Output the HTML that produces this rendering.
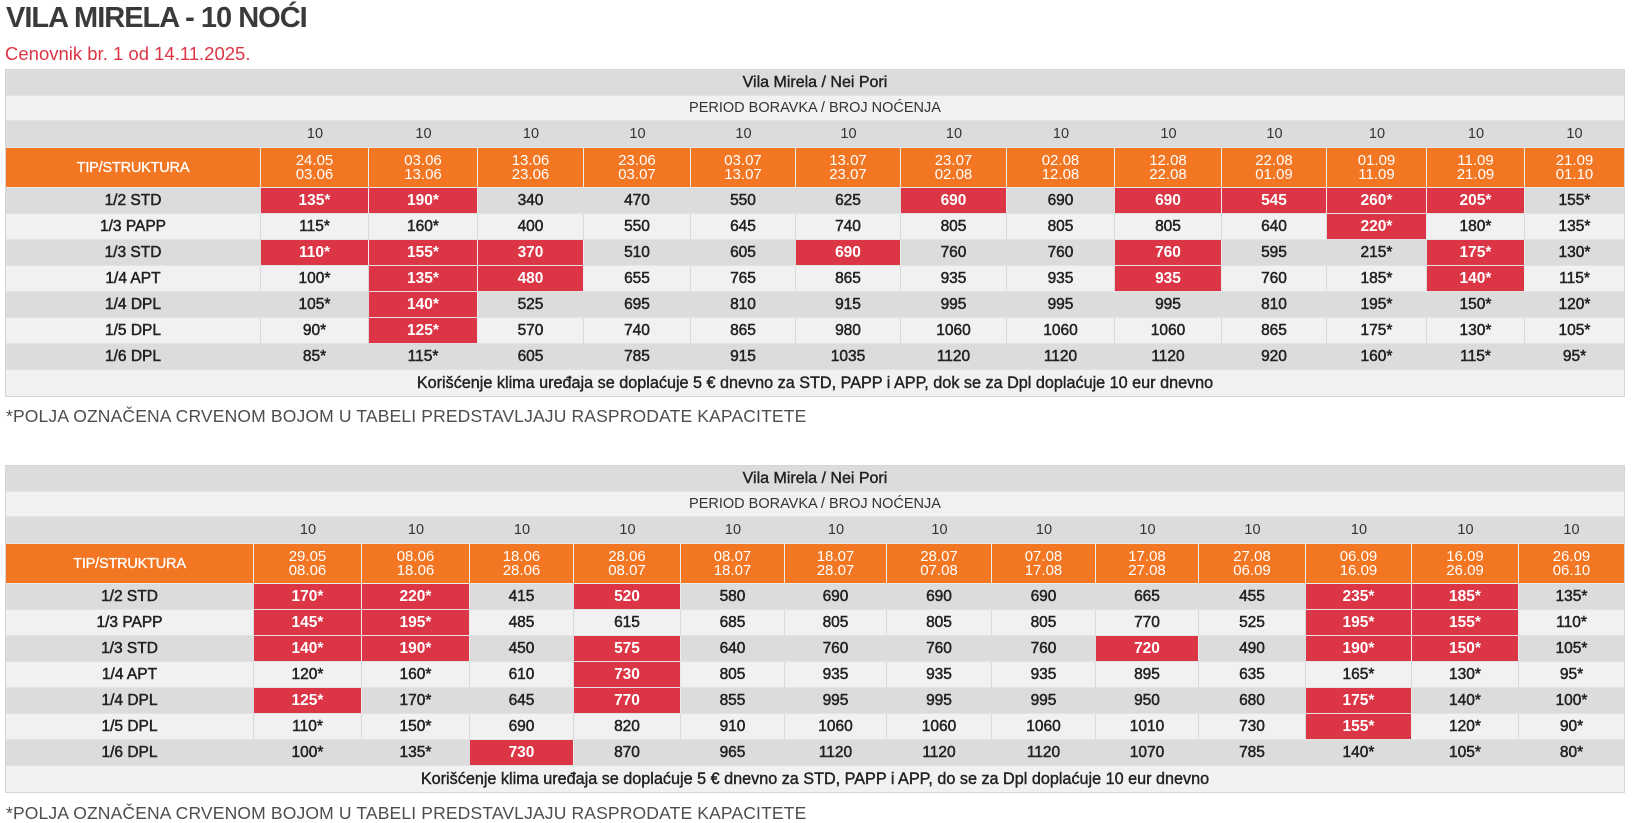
<!DOCTYPE html>
<html>
<head>
<meta charset="utf-8">
<style>
html,body{margin:0;padding:0}
body{width:1637px;height:823px;background:#fff;position:relative;overflow:hidden;font-family:"Liberation Sans",sans-serif;color:#222}
.h1{position:absolute;left:6px;top:4px;font-size:29px;line-height:29px;font-weight:bold;color:#3a3a3a;letter-spacing:-1px;white-space:nowrap}
.sub{position:absolute;left:5px;top:45px;font-size:18.5px;line-height:18.5px;color:#dc3545;white-space:nowrap}
.fn{position:absolute;left:6px;font-size:17.5px;line-height:17.5px;color:#4d4d4d;white-space:nowrap;letter-spacing:0.15px}
.tb{position:absolute;left:5px;width:1620px;border:1px solid #d6d6d6;box-sizing:border-box;background:#f1f1f1}
.row{display:grid;box-sizing:border-box;border-bottom:1px solid #e3e3e3}
.t1 .row{grid-template-columns:255px 108px 109px 106px 107px 105px 105px 106px 108px 107px 105px 100px 98px 99px}
.t2 .row{grid-template-columns:248px 108px 108px 104px 107px 104px 102px 105px 104px 103px 107px 106px 107px 105px}
.row>div{display:flex;align-items:center;justify-content:center;border-right:1px solid #d9d9d9;font-size:15.5px;white-space:nowrap;-webkit-text-stroke:0.5px #222;color:#222}
.row>div:last-child{border-right:none}
.d{background:#dcdcdc;height:26px}
.d>div{border-right-color:#dcdcdc}
.l{background:#f1f1f1;height:26px}
.row>div.x{background:#dc3545;color:#fff;font-weight:bold;-webkit-text-stroke:0;border-right-color:#ececec}
.full{display:flex;box-sizing:border-box;align-items:center;justify-content:center;border-bottom:1px solid #e3e3e3;white-space:nowrap}
.title{height:26px;background:#dcdcdc;font-size:16px;-webkit-text-stroke:0.4px #222}
.period{height:25px;background:#f1f1f1;font-size:14.5px;color:#333}
.tens{height:27px;background:#dcdcdc;border-bottom:1px solid #e6e6e6}
.tens>div{border-right:none !important;font-size:14.5px !important;-webkit-text-stroke:0 !important;color:#333 !important}
.or{height:40px;background:#f37622;border-bottom:1px solid #ececec}
.or>div{border-right-color:#ececec !important;color:#fff !important;-webkit-text-stroke:0 !important;flex-direction:column;font-size:15px !important;line-height:14px}
.or>div.tip{font-size:14.5px !important;-webkit-text-stroke:0.3px #fff !important;letter-spacing:-0.2px}
.note{height:26px;background:#f1f1f1;border-bottom:none;font-size:16.2px;-webkit-text-stroke:0.4px #222}
</style>
</head>
<body>
<div class="h1">VILA MIRELA - 10 NOĆI</div>
<div class="sub">Cenovnik br. 1 od 14.11.2025.</div>

<div class="tb t1" style="top:69px">
  <div class="full title">Vila Mirela / Nei Pori</div>
  <div class="full period">PERIOD BORAVKA / BROJ NOĆENJA</div>
  <div class="row tens"><div></div><div>10</div><div>10</div><div>10</div><div>10</div><div>10</div><div>10</div><div>10</div><div>10</div><div>10</div><div>10</div><div>10</div><div>10</div><div>10</div></div>
  <div class="row or"><div class="tip">TIP/STRUKTURA</div><div><span>24.05</span><span>03.06</span></div><div><span>03.06</span><span>13.06</span></div><div><span>13.06</span><span>23.06</span></div><div><span>23.06</span><span>03.07</span></div><div><span>03.07</span><span>13.07</span></div><div><span>13.07</span><span>23.07</span></div><div><span>23.07</span><span>02.08</span></div><div><span>02.08</span><span>12.08</span></div><div><span>12.08</span><span>22.08</span></div><div><span>22.08</span><span>01.09</span></div><div><span>01.09</span><span>11.09</span></div><div><span>11.09</span><span>21.09</span></div><div><span>21.09</span><span>01.10</span></div></div>
  <div class="row d"><div>1/2 STD</div><div class="x">135*</div><div class="x">190*</div><div>340</div><div>470</div><div>550</div><div>625</div><div class="x">690</div><div>690</div><div class="x">690</div><div class="x">545</div><div class="x">260*</div><div class="x">205*</div><div>155*</div></div>
  <div class="row l"><div>1/3 PAPP</div><div>115*</div><div>160*</div><div>400</div><div>550</div><div>645</div><div>740</div><div>805</div><div>805</div><div>805</div><div>640</div><div class="x">220*</div><div>180*</div><div>135*</div></div>
  <div class="row d"><div>1/3 STD</div><div class="x">110*</div><div class="x">155*</div><div class="x">370</div><div>510</div><div>605</div><div class="x">690</div><div>760</div><div>760</div><div class="x">760</div><div>595</div><div>215*</div><div class="x">175*</div><div>130*</div></div>
  <div class="row l"><div>1/4 APT</div><div>100*</div><div class="x">135*</div><div class="x">480</div><div>655</div><div>765</div><div>865</div><div>935</div><div>935</div><div class="x">935</div><div>760</div><div>185*</div><div class="x">140*</div><div>115*</div></div>
  <div class="row d"><div>1/4 DPL</div><div>105*</div><div class="x">140*</div><div>525</div><div>695</div><div>810</div><div>915</div><div>995</div><div>995</div><div>995</div><div>810</div><div>195*</div><div>150*</div><div>120*</div></div>
  <div class="row l"><div>1/5 DPL</div><div>90*</div><div class="x">125*</div><div>570</div><div>740</div><div>865</div><div>980</div><div>1060</div><div>1060</div><div>1060</div><div>865</div><div>175*</div><div>130*</div><div>105*</div></div>
  <div class="row d"><div>1/6 DPL</div><div>85*</div><div>115*</div><div>605</div><div>785</div><div>915</div><div>1035</div><div>1120</div><div>1120</div><div>1120</div><div>920</div><div>160*</div><div>115*</div><div>95*</div></div>
  <div class="full note">Korišćenje klima uređaja se doplaćuje 5 € dnevno za STD, PAPP i APP, dok se za Dpl doplaćuje 10 eur dnevno</div>
</div>

<div class="fn" style="top:408px">*POLJA OZNAČENA CRVENOM BOJOM U TABELI PREDSTAVLJAJU RASPRODATE KAPACITETE</div>

<div class="tb t2" style="top:465px">
  <div class="full title">Vila Mirela / Nei Pori</div>
  <div class="full period">PERIOD BORAVKA / BROJ NOĆENJA</div>
  <div class="row tens"><div></div><div>10</div><div>10</div><div>10</div><div>10</div><div>10</div><div>10</div><div>10</div><div>10</div><div>10</div><div>10</div><div>10</div><div>10</div><div>10</div></div>
  <div class="row or"><div class="tip">TIP/STRUKTURA</div><div><span>29.05</span><span>08.06</span></div><div><span>08.06</span><span>18.06</span></div><div><span>18.06</span><span>28.06</span></div><div><span>28.06</span><span>08.07</span></div><div><span>08.07</span><span>18.07</span></div><div><span>18.07</span><span>28.07</span></div><div><span>28.07</span><span>07.08</span></div><div><span>07.08</span><span>17.08</span></div><div><span>17.08</span><span>27.08</span></div><div><span>27.08</span><span>06.09</span></div><div><span>06.09</span><span>16.09</span></div><div><span>16.09</span><span>26.09</span></div><div><span>26.09</span><span>06.10</span></div></div>
  <div class="row d"><div>1/2 STD</div><div class="x">170*</div><div class="x">220*</div><div>415</div><div class="x">520</div><div>580</div><div>690</div><div>690</div><div>690</div><div>665</div><div>455</div><div class="x">235*</div><div class="x">185*</div><div>135*</div></div>
  <div class="row l"><div>1/3 PAPP</div><div class="x">145*</div><div class="x">195*</div><div>485</div><div>615</div><div>685</div><div>805</div><div>805</div><div>805</div><div>770</div><div>525</div><div class="x">195*</div><div class="x">155*</div><div>110*</div></div>
  <div class="row d"><div>1/3 STD</div><div class="x">140*</div><div class="x">190*</div><div>450</div><div class="x">575</div><div>640</div><div>760</div><div>760</div><div>760</div><div class="x">720</div><div>490</div><div class="x">190*</div><div class="x">150*</div><div>105*</div></div>
  <div class="row l"><div>1/4 APT</div><div>120*</div><div>160*</div><div>610</div><div class="x">730</div><div>805</div><div>935</div><div>935</div><div>935</div><div>895</div><div>635</div><div>165*</div><div>130*</div><div>95*</div></div>
  <div class="row d"><div>1/4 DPL</div><div class="x">125*</div><div>170*</div><div>645</div><div class="x">770</div><div>855</div><div>995</div><div>995</div><div>995</div><div>950</div><div>680</div><div class="x">175*</div><div>140*</div><div>100*</div></div>
  <div class="row l"><div>1/5 DPL</div><div>110*</div><div>150*</div><div>690</div><div>820</div><div>910</div><div>1060</div><div>1060</div><div>1060</div><div>1010</div><div>730</div><div class="x">155*</div><div>120*</div><div>90*</div></div>
  <div class="row d"><div>1/6 DPL</div><div>100*</div><div>135*</div><div class="x">730</div><div>870</div><div>965</div><div>1120</div><div>1120</div><div>1120</div><div>1070</div><div>785</div><div>140*</div><div>105*</div><div>80*</div></div>
  <div class="full note">Korišćenje klima uređaja se doplaćuje 5 € dnevno za STD, PAPP i APP, do se za Dpl doplaćuje 10 eur dnevno</div>
</div>

<div class="fn" style="top:805px">*POLJA OZNAČENA CRVENOM BOJOM U TABELI PREDSTAVLJAJU RASPRODATE KAPACITETE</div>
</body>
</html>
